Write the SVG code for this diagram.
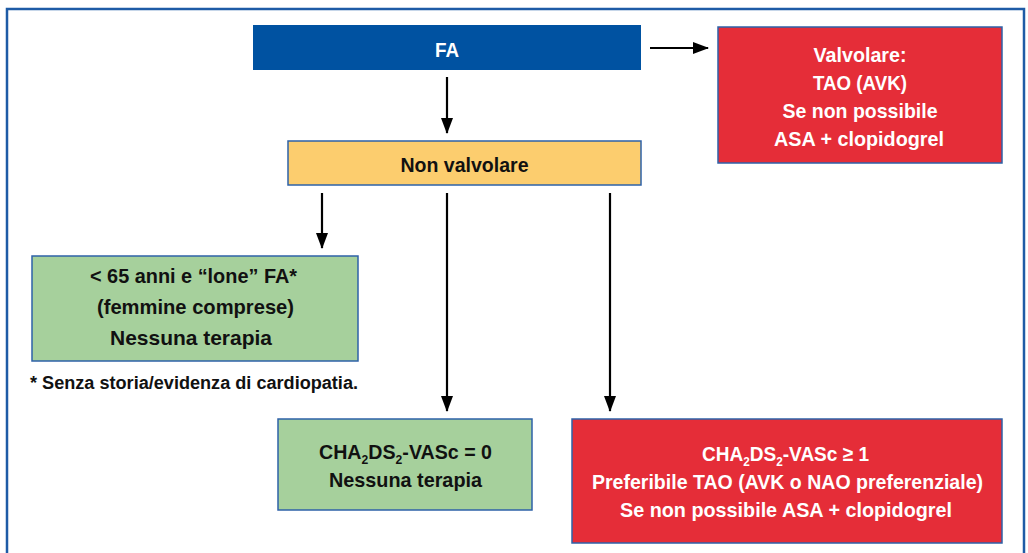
<svg xmlns="http://www.w3.org/2000/svg" width="1028" height="553" viewBox="0 0 1028 553">
<style>
.t{font-family:"Liberation Sans",Arial,sans-serif;font-weight:bold;font-size:21px;text-anchor:middle}
.w{fill:#ffffff}
.k{fill:#111111}
.box{stroke:#2e62a8;stroke-width:1.5}
.sub{font-size:13px}
.c{stroke:#000;stroke-width:2.2;fill:none}
</style>
<defs>
<marker id="ah" viewBox="0 0 16 12" refX="15" refY="6" markerWidth="16" markerHeight="12" markerUnits="userSpaceOnUse" orient="auto">
<path d="M0,0 L16,6 L0,12 Z" fill="#000"/>
</marker>
</defs>
<rect x="0" y="0" width="1028" height="553" fill="#ffffff"/>
<rect id="frame" x="7" y="9" width="1017" height="560" fill="none" stroke="#1e5ba6" stroke-width="2.5"/>

<g id="connectors">
<line class="c" x1="447" y1="77" x2="447" y2="133" marker-end="url(#ah)"/>
<line class="c" x1="650" y1="48" x2="708" y2="48" marker-end="url(#ah)"/>
<line class="c" x1="322" y1="193" x2="322" y2="248" marker-end="url(#ah)"/>
<line class="c" x1="447" y1="193" x2="447" y2="411" marker-end="url(#ah)"/>
<line class="c" x1="610" y1="193" x2="610" y2="411" marker-end="url(#ah)"/>
</g>

<g id="fa">
<rect x="253" y="25" width="388" height="45" fill="#0052a1"/>
<text class="t w" x="447" y="57" textLength="24" lengthAdjust="spacingAndGlyphs">FA</text>
</g>

<g id="valvolare">
<rect class="box" x="718" y="27" width="284" height="136" fill="#e52d38"/>
<text class="t w" x="860" y="62" textLength="93" lengthAdjust="spacingAndGlyphs">Valvolare:</text>
<text class="t w" x="860" y="90" textLength="94" lengthAdjust="spacingAndGlyphs">TAO (AVK)</text>
<text class="t w" x="860" y="118" textLength="155" lengthAdjust="spacingAndGlyphs">Se non possibile</text>
<text class="t w" x="859" y="146" textLength="170" lengthAdjust="spacingAndGlyphs">ASA + clopidogrel</text>
</g>

<g id="non-valvolare">
<rect class="box" x="288" y="141" width="353" height="44" fill="#fccd6e"/>
<text class="t k" x="464.5" y="172" textLength="128" lengthAdjust="spacingAndGlyphs">Non valvolare</text>
</g>

<g id="lone-fa">
<rect class="box" x="32" y="256" width="326" height="105" fill="#a6d09c"/>
<text class="t k" x="193.5" y="283" textLength="207" lengthAdjust="spacingAndGlyphs">&lt; 65 anni e “lone” FA*</text>
<text class="t k" x="195.5" y="314" textLength="197" lengthAdjust="spacingAndGlyphs">(femmine comprese)</text>
<text class="t k" x="191" y="345" textLength="162" lengthAdjust="spacingAndGlyphs">Nessuna terapia</text>
</g>

<g id="footnote">
<text class="t k" x="194" y="389" style="font-size:18px" textLength="328" lengthAdjust="spacingAndGlyphs">* Senza storia/evidenza di cardiopatia.</text>
</g>

<g id="cha-0">
<rect class="box" x="278" y="419" width="254" height="91" fill="#a6d09c"/>
<text class="t k" x="405.5" y="459" textLength="173" lengthAdjust="spacingAndGlyphs">CHA<tspan class="sub" dy="5">2</tspan><tspan dy="-5">DS</tspan><tspan class="sub" dy="5">2</tspan><tspan dy="-5">-VASc = 0</tspan></text>
<text class="t k" x="405.5" y="487" textLength="153" lengthAdjust="spacingAndGlyphs">Nessuna terapia</text>
</g>

<g id="cha-1">
<rect class="box" x="572" y="419" width="430" height="124" fill="#e52d38"/>
<text class="t w" x="785.5" y="461" textLength="167" lengthAdjust="spacingAndGlyphs">CHA<tspan class="sub" dy="5">2</tspan><tspan dy="-5">DS</tspan><tspan class="sub" dy="5">2</tspan><tspan dy="-5">-VASc ≥ 1</tspan></text>
<text class="t w" x="787.5" y="489" textLength="391" lengthAdjust="spacingAndGlyphs">Preferibile TAO (AVK o NAO preferenziale)</text>
<text class="t w" x="786" y="517" textLength="332" lengthAdjust="spacingAndGlyphs">Se non possibile ASA + clopidogrel</text>
</g>
</svg>
